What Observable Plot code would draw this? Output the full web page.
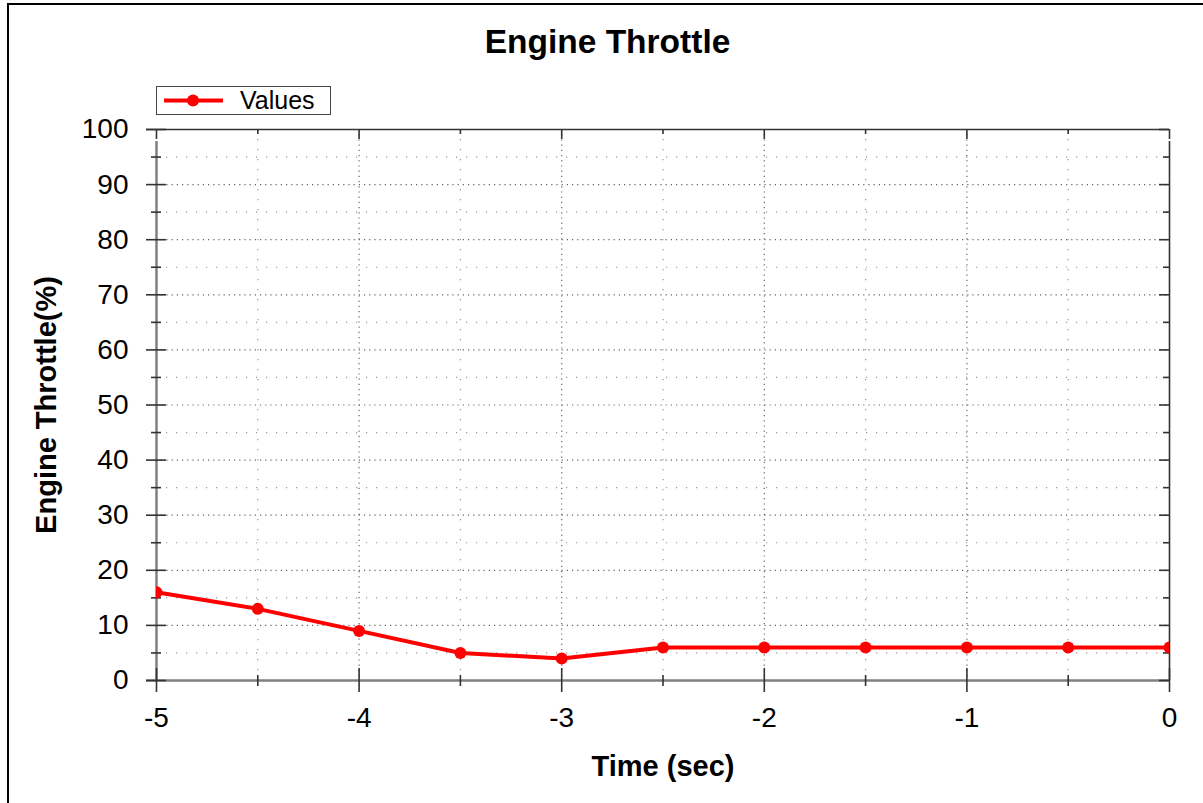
<!DOCTYPE html>
<html>
<head>
<meta charset="utf-8">
<script src="https://cdn.jsdelivr.net/npm/d3@7"></script>
<script src="https://cdn.jsdelivr.net/npm/@observablehq/plot@0.6"></script>
<style>
  html, body { margin: 0; padding: 0; background: #fff; overflow: hidden; }
  #wrap { position: relative; width: 1203px; height: 803px; font-family: "Liberation Sans", Arial, sans-serif; }
  #border { position: absolute; left: 7px; top: 3px; width: 1220px; height: 820px; border: 2px solid #000; box-sizing: border-box; }
  #title { position: absolute; left: 0; width: 1215px; top: 23px; text-align: center; font-size: 33.5px; font-weight: bold; color: #000; }
  #legend { position: absolute; left: 156px; top: 86px; width: 175px; height: 29px; border: 1px solid #444; box-sizing: border-box; background: #fff; }
  #legend svg { position: absolute; left: 0; top: 0; }
  #legend span { position: absolute; left: 83px; top: -1px; font-size: 25px; line-height: 28px; color: #000; }
  #chart { position: absolute; left: 0; top: 0; }
</style>
</head>
<body>
<div id="wrap">
  <div id="border"></div>
  <div id="chart"></div>
  <div id="title"></div>
  <div id="legend"></div>
</div>
<script>
// ---- data ----
const chartTitle = "Engine Throttle";
const seriesName = "Values";
const xLabel = "Time (sec)";
const yLabel = "Engine Throttle(%)";
const timeSec = [-5, -4.5, -4, -3.5, -3, -2.5, -2, -1.5, -1, -0.5, 0];
const throttle = [16, 13, 9, 5, 4, 6, 6, 6, 6, 6, 6];
const xTicks = [-5, -4, -3, -2, -1, 0];
const xMinorTicks = [-4.5, -3.5, -2.5, -1.5, -0.5];
const yTicks = [0, 10, 20, 30, 40, 50, 60, 70, 80, 90, 100];
const yMinorTicks = [5, 15, 25, 35, 45, 55, 65, 75, 85, 95];

const data = timeSec.map((t, i) => ({t, v: throttle[i]}));

document.getElementById("title").textContent = chartTitle;
document.getElementById("legend").innerHTML =
  `<svg width="80" height="28"><line x1="7" x2="66" y1="13.5" y2="13.5" stroke="#ff0000" stroke-width="4"/><circle cx="36" cy="13.5" r="6" fill="#ff0000"/></svg><span>${seriesName}</span>`;

const tickColor = "#333";
const axisColor = "#808080";
const innerX = xTicks.filter(d => d !== -5 && d !== 0);
const innerY = yTicks.filter(d => d !== 0 && d !== 100);

const chart = Plot.plot({
  width: 1203,
  height: 803,
  marginTop: 129,
  marginRight: 34,
  marginBottom: 123,
  marginLeft: 156,
  style: { fontFamily: "Liberation Sans, Arial, sans-serif", fontSize: "28px", color: "#000", background: "transparent", overflow: "visible" },
  x: { domain: [-5, 0] },
  y: { domain: [0, 100] },
  marks: [
    // grid
    Plot.ruleY(yMinorTicks, { stroke: "#999", strokeWidth: 1.2, strokeDasharray: "1.2,8.8" }),
    Plot.ruleX(xMinorTicks, { stroke: "#999", strokeWidth: 1.2, strokeDasharray: "1.2,8.8" }),
    Plot.ruleY(innerY, { stroke: "#666", strokeWidth: 1.2, strokeDasharray: "1.2,4" }),
    Plot.ruleX(innerX, { stroke: "#666", strokeWidth: 1.2, strokeDasharray: "1.2,4" }),
    // frame top & right
    Plot.ruleY([100], { stroke: "#333", strokeWidth: 1.6, x1: -5, x2: 0, insetLeft: -10 }),
    Plot.ruleX([0], { stroke: "#333", strokeWidth: 1.6, y1: 0, y2: 100, insetBottom: -12 }),
    // axis lines left & bottom
    Plot.ruleX([-5], { stroke: axisColor, strokeWidth: 2.5, y1: 0, y2: 100, insetBottom: -12 }),
    Plot.ruleY([0], { stroke: axisColor, strokeWidth: 2.5, x1: -5, x2: 0, insetLeft: -10 }),
    // left ticks
    Plot.ruleY(yTicks, { x1: -5, x2: -5, insetLeft: -10, insetRight: -10, stroke: tickColor, strokeWidth: 1.6 }),
    Plot.ruleY(yMinorTicks, { x1: -5, x2: -5, insetLeft: -5, insetRight: -5, stroke: tickColor, strokeWidth: 1.6 }),
    // right ticks (inward)
    Plot.ruleY(yTicks, { x1: 0, x2: 0, insetLeft: -10, stroke: tickColor, strokeWidth: 1.6 }),
    Plot.ruleY(yMinorTicks, { x1: 0, x2: 0, insetLeft: -6, stroke: tickColor, strokeWidth: 1.6 }),
    // bottom ticks
    Plot.ruleX(xTicks, { y1: 0, y2: 0, insetTop: -12, insetBottom: -12, stroke: tickColor, strokeWidth: 1.6 }),
    Plot.ruleX(xMinorTicks, { y1: 0, y2: 0, insetTop: -5, insetBottom: -6, stroke: tickColor, strokeWidth: 1.6 }),
    // top ticks (inward)
    Plot.ruleX(xTicks, { y1: 100, y2: 100, insetBottom: -10, stroke: tickColor, strokeWidth: 1.6 }),
    Plot.ruleX(xMinorTicks, { y1: 100, y2: 100, insetBottom: -5, stroke: tickColor, strokeWidth: 1.6 }),
    // data
    Plot.line(data, { x: "t", y: "v", stroke: "#ff0000", strokeWidth: 4, clip: true }),
    Plot.dot(data, { x: "t", y: "v", r: 6, fill: "#ff0000", stroke: "none", clip: true }),
    // axes labels
    Plot.axisY(yTicks, { anchor: "left", tickSize: 0, tickPadding: 28, tickFormat: d => String(d), label: null, fontSize: 28 }),
    Plot.axisX(xTicks, { anchor: "bottom", tickSize: 0, tickPadding: 27, tickFormat: d => String(d), label: null, fontSize: 28 }),
    Plot.text([xLabel], { frameAnchor: "bottom", textAnchor: "middle", text: d => d, dy: 95, lineAnchor: "bottom", fontWeight: "bold", fontSize: 29 }),
    Plot.text([yLabel], { frameAnchor: "left", textAnchor: "middle", text: d => d, dx: -110, rotate: -90, fontWeight: "bold", fontSize: 29 })
  ]
});
document.getElementById("chart").appendChild(chart);
</script>
</body>
</html>
